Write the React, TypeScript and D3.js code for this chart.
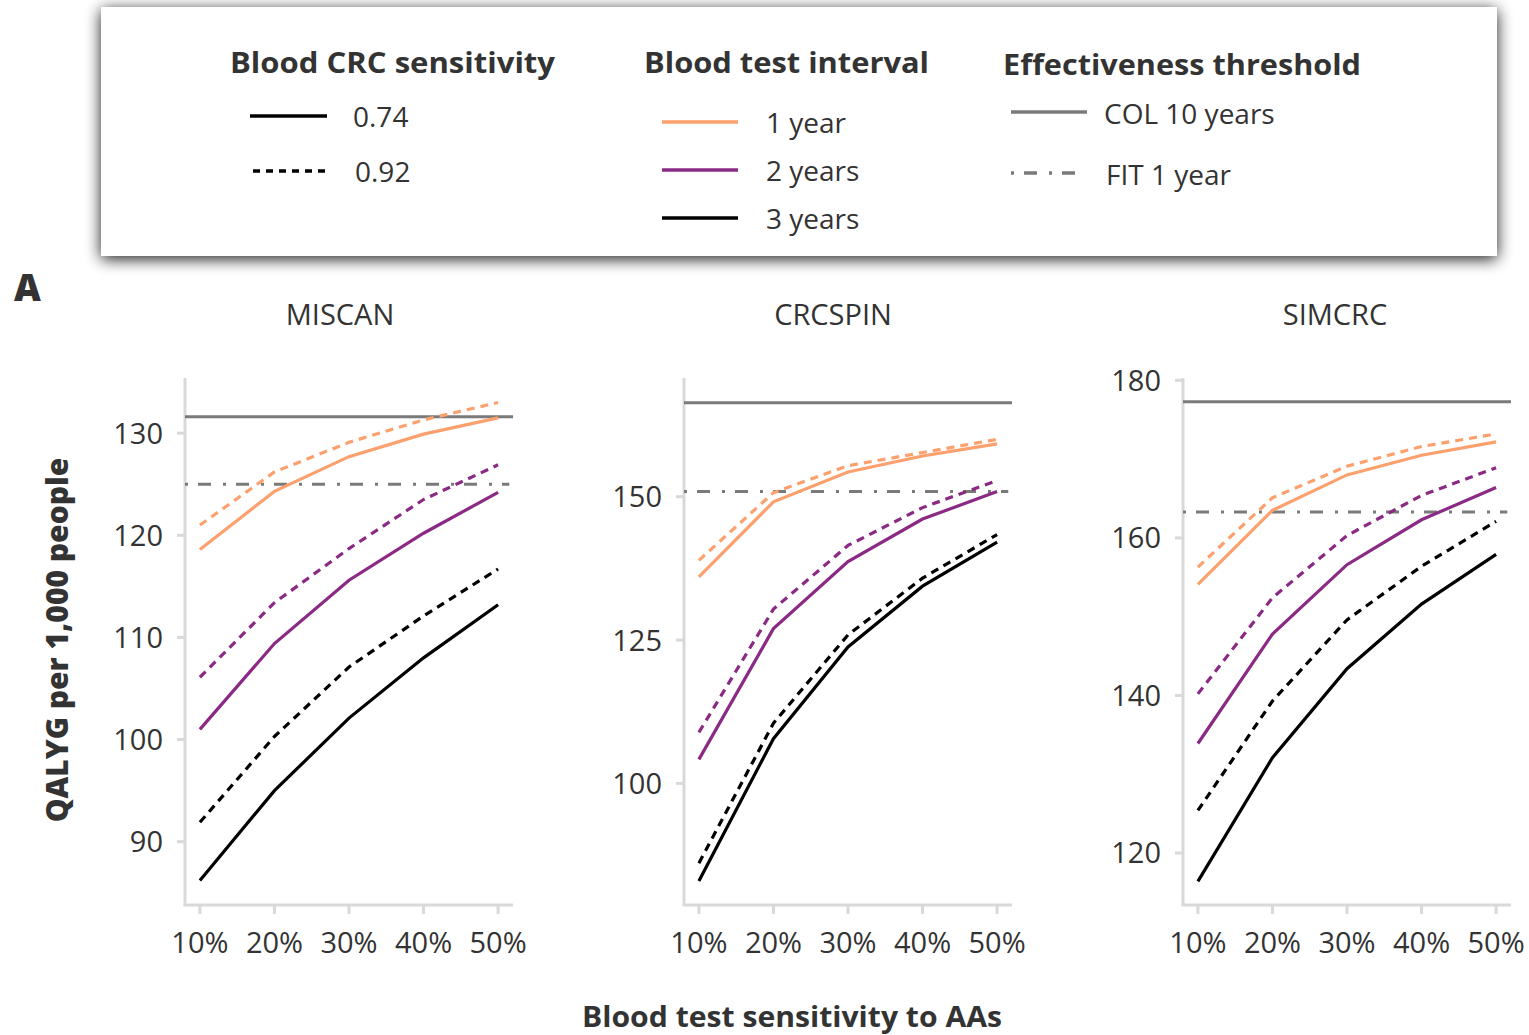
import React from "react";
import * as d3 from "d3";

const sensitivities = [0.1, 0.2, 0.3, 0.4, 0.5];
const xTickLabels = ["10%", "20%", "30%", "40%", "50%"];
const models = ["MISCAN", "CRCSPIN", "SIMCRC"];
const intervals = ["1 year", "2 years", "3 years"];
const crcSens = ["0.74", "0.92"];

// values per model: [interval][crcSens][point]
const miscan1y074 = [118.6, 124.3, 127.7, 129.9, 131.5];
const miscan1y092 = [121.0, 126.2, 129.1, 131.3, 133.0];
const miscan2y074 = [101.0, 109.4, 115.6, 120.2, 124.2];
const miscan2y092 = [106.1, 113.4, 118.7, 123.5, 126.9];
const miscan3y074 = [86.2, 95.0, 102.1, 108.0, 113.2];
const miscan3y092 = [91.9, 100.3, 107.1, 112.1, 116.7];

const crcspin1y074 = [136.0, 149.1, 154.3, 157.1, 159.2];
const crcspin1y092 = [138.9, 150.7, 155.4, 157.7, 160.0];
const crcspin2y074 = [104.2, 127.0, 138.7, 146.1, 150.9];
const crcspin2y092 = [108.9, 130.4, 141.5, 148.1, 152.8];
const crcspin3y074 = [83.0, 107.8, 123.8, 134.4, 142.1];
const crcspin3y092 = [86.1, 110.5, 125.9, 135.8, 143.4];

const simcrc1y074 = [154.1, 163.5, 168.0, 170.5, 172.2];
const simcrc1y092 = [156.3, 165.1, 169.1, 171.6, 173.2];
const simcrc2y074 = [133.9, 147.8, 156.6, 162.3, 166.4];
const simcrc2y092 = [140.2, 152.4, 160.3, 165.4, 168.9];
const simcrc3y074 = [116.4, 132.1, 143.4, 151.6, 157.9];
const simcrc3y092 = [125.4, 139.3, 149.6, 156.4, 162.1];

const colThreshold = [131.6, 166.4, 177.3];
const fitThreshold = [125.0, 150.9, 163.3];

const yDomains = [
  [83.8, 135.4],
  [78.8, 170.7],
  [113.4, 180.3],
];
const yTicks = [
  [90, 100, 110, 120, 130],
  [100, 125, 150],
  [120, 140, 160, 180],
];

const seriesByModel = [
  [
    [miscan1y074, miscan1y092],
    [miscan2y074, miscan2y092],
    [miscan3y074, miscan3y092],
  ],
  [
    [crcspin1y074, crcspin1y092],
    [crcspin2y074, crcspin2y092],
    [crcspin3y074, crcspin3y092],
  ],
  [
    [simcrc1y074, simcrc1y092],
    [simcrc2y074, simcrc2y092],
    [simcrc3y074, simcrc3y092],
  ],
];

const intervalColors = ["#FCA06E", "#8A2A84", "#000000"];
const sensDash = [null, "8,6"];
const textColor = "#333333";
const axisColor = "#d9d9d9";
const thresholdColor = "#7a7a7a";
const FONT = "'Open Sans', sans-serif";

const panelLefts = [185, 684, 1183];
const titleCenters = [340, 833, 1335];
const panelWidth = 328;
const panelTop = 378;
const panelBottom = 905;

function Panel({ idx }: { idx: number }) {
  const left = panelLefts[idx];
  const x = d3.scaleLinear().domain([0.08, 0.52]).range([left, left + panelWidth]);
  const y = d3.scaleLinear().domain(yDomains[idx]).range([panelBottom, panelTop]);
  const line = d3
    .line<number>()
    .x((_, i) => x(sensitivities[i]))
    .y((d) => y(d));
  const series = seriesByModel[idx];
  return (
    <g>
      <text
        x={titleCenters[idx]}
        y={325}
        textAnchor="middle"
        fontFamily={FONT}
        fontSize={29}
        fill={textColor}
      >
        {models[idx]}
      </text>
      {/* axes */}
      <line x1={left} x2={left} y1={panelTop} y2={panelBottom} stroke={axisColor} strokeWidth={3} />
      <line x1={left - 1.5} x2={left + panelWidth} y1={panelBottom} y2={panelBottom} stroke={axisColor} strokeWidth={3} />
      {yTicks[idx].map((t) => (
        <g key={t}>
          <line x1={left - 8} x2={left} y1={y(t)} y2={y(t)} stroke={axisColor} strokeWidth={3} />
          <text
            x={left - 22}
            y={y(t)}
            dy="0.36em"
            textAnchor="end"
            fontFamily={FONT}
            fontSize={29}
            fill={textColor}
          >
            {t}
          </text>
        </g>
      ))}
      {sensitivities.map((s, i) => (
        <g key={s}>
          <line x1={x(s)} x2={x(s)} y1={panelBottom} y2={panelBottom + 9} stroke={axisColor} strokeWidth={3} />
          <text
            x={x(s)}
            y={953}
            textAnchor="middle"
            fontFamily={FONT}
            fontSize={29}
            fill={textColor}
          >
            {xTickLabels[i]}
          </text>
        </g>
      ))}
      {/* thresholds */}
      <line
        x1={left}
        x2={left + panelWidth}
        y1={y(colThreshold[idx])}
        y2={y(colThreshold[idx])}
        stroke={thresholdColor}
        strokeWidth={3}
      />
      <line
        x1={left}
        x2={x(0.515)}
        y1={y(fitThreshold[idx])}
        y2={y(fitThreshold[idx])}
        stroke={thresholdColor}
        strokeWidth={3}
        strokeDasharray="3,10,13,12"
      />
      {/* series */}
      {series.map((pair, ii) =>
        pair.map((vals, si) => (
          <path
            key={`${ii}-${si}`}
            d={line(vals) || ""}
            fill="none"
            stroke={intervalColors[ii]}
            strokeWidth={3.2}
            strokeDasharray={sensDash[si] || undefined}
          />
        ))
      )}
    </g>
  );
}

function Legend() {
  const titleProps = {
    fontFamily: FONT,
    fontWeight: 700,
    fontSize: 28,
    fill: textColor,
  };
  const labelProps = { fontFamily: FONT, fontSize: 28, fill: textColor };
  const sensY = [116, 171];
  const intY = [122, 170, 218];
  return (
    <g>
      <defs>
        <filter id="shadow" x="-5%" y="-20%" width="110%" height="140%">
          <feGaussianBlur in="SourceAlpha" stdDeviation="8" />
          <feOffset dx="0" dy="3" result="blur" />
          <feComponentTransfer>
            <feFuncA type="linear" slope="0.9" />
          </feComponentTransfer>
          <feMerge>
            <feMergeNode />
            <feMergeNode in="SourceGraphic" />
          </feMerge>
        </filter>
      </defs>
      <rect x={101} y={7} width={1396} height={249} fill="#ffffff" filter="url(#shadow)" />
      <text x={230} y={73} {...titleProps} textLength={325} lengthAdjust="spacingAndGlyphs">
        Blood CRC sensitivity
      </text>
      {crcSens.map((s, i) => (
        <g key={s}>
          <line
            x1={250 + i * 3}
            x2={327 + i * 3}
            y1={sensY[i]}
            y2={sensY[i]}
            stroke="#000"
            strokeWidth={3.5}
            strokeDasharray={i === 1 ? "7,6" : undefined}
          />
          <text x={353 + i * 2} y={sensY[i] + 11} {...labelProps}>
            {s}
          </text>
        </g>
      ))}
      <text x={644} y={73} {...titleProps} textLength={285} lengthAdjust="spacingAndGlyphs">
        Blood test interval
      </text>
      {intervals.map((s, i) => (
        <g key={s}>
          <line x1={662} x2={738} y1={intY[i]} y2={intY[i]} stroke={intervalColors[i]} strokeWidth={3.5} />
          <text x={766} y={intY[i] + 11} {...labelProps}>
            {s}
          </text>
        </g>
      ))}
      <text x={1003} y={75} {...titleProps} textLength={358} lengthAdjust="spacingAndGlyphs">
        Effectiveness threshold
      </text>
      <line x1={1011} x2={1087} y1={112} y2={112} stroke={thresholdColor} strokeWidth={3.5} />
      <text x={1104} y={124} {...labelProps}>
        COL 10 years
      </text>
      <line
        x1={1011}
        x2={1080}
        y1={173}
        y2={173}
        stroke={thresholdColor}
        strokeWidth={3.5}
        strokeDasharray="3,10,13,12"
      />
      <text x={1106} y={185} {...labelProps}>
        FIT 1 year
      </text>
    </g>
  );
}

export default function App() {
  return (
    <svg
      width={1529}
      height={1035}
      style={{ position: "absolute", left: 0, top: 0, background: "#fff" }}
    >
      <rect x={0} y={0} width={1529} height={1035} fill="#fff" />
      <Legend />
      <text x={14} y={301} fontFamily={FONT} fontWeight={800} fontSize={37} fill={textColor}>
        A
      </text>
      {models.map((m, i) => (
        <Panel key={m} idx={i} />
      ))}
      <text
        transform="translate(68,640) rotate(-90)"
        textAnchor="middle"
        fontFamily={FONT}
        fontWeight={800}
        fontSize={30}
        fill={textColor}
      >
        QALYG per 1,000 people
      </text>
      <text
        x={792}
        y={1027}
        textAnchor="middle"
        fontFamily={FONT}
        fontWeight={700}
        fontSize={28}
        fill={textColor}
        textLength={420}
        lengthAdjust="spacingAndGlyphs"
      >
        Blood test sensitivity to AAs
      </text>
    </svg>
  );
}
